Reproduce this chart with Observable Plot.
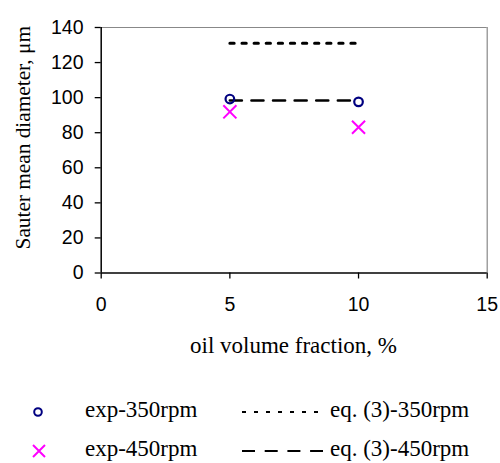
<!DOCTYPE html>
<html><head><meta charset="utf-8">
<script src="https://cdn.jsdelivr.net/npm/d3@7"></script>
<script src="https://cdn.jsdelivr.net/npm/@observablehq/plot@0.6"></script>
<style>
body{margin:0;background:#fff;}
#wrap{position:relative;width:500px;height:463px;overflow:hidden;}
</style></head>
<body><div id="wrap"></div>
<script>
const fractions = [5, 10];
const exp350 = [99.2, 97.6];
const exp450 = [91.9, 83.1];
const eq350 = [131, 131];
const eq450 = [98.4, 98.4];
const xTicks = [0, 5, 10, 15];
const yTicks = [0, 20, 40, 60, 80, 100, 120, 140];
const seriesNames = ["exp-350rpm", "exp-450rpm", "eq. (3)-350rpm", "eq. (3)-450rpm"];
const xTitle = "oil volume fraction, %";
const yTitle = "Sauter mean diameter, μm";

const mk = (vals) => fractions.map((f, i) => ({x: f, y: vals[i]}));
const serif = "Liberation Serif, Times New Roman, serif";

const chart = Plot.plot({
  width: 500, height: 365,
  marginLeft: 100.7, marginRight: 13.3, marginTop: 27, marginBottom: 92.5,
  style: {fontFamily: "Liberation Sans, Arial, sans-serif", fontSize: "19.5px", color: "#000", background: "#fff", overflow: "visible"},
  x: {domain: [0, 15], ticks: xTicks},
  y: {domain: [0, 140], ticks: yTicks},
  marks: [
    Plot.ruleY([140], {stroke: "#888", strokeWidth: 1.2}),
    Plot.ruleX([15], {stroke: "#888", strokeWidth: 1.2}),
    Plot.axisX({ticks: xTicks, tickSize: 6, tickPadding: 18.5, label: null, stroke: "#000", strokeWidth: 1.3}),
    Plot.axisY({ticks: yTicks, tickSize: 6, tickPadding: 11.7, label: null, stroke: "#000", strokeWidth: 1.3}),
    Plot.ruleY([0], {stroke: "#000", strokeWidth: 1.5}),
    Plot.ruleX([0], {stroke: "#000", strokeWidth: 1.5}),
    Plot.line(mk(eq350), {x: "x", y: "y", stroke: "#000", strokeWidth: 3, strokeDasharray: "4.3,7.8"}),
    Plot.line(mk(eq450), {x: "x", y: "y", stroke: "#000", strokeWidth: 2.6, strokeDasharray: "12,9.6"}),
    Plot.dot(mk(exp350), {x: "x", y: "y", r: 4.3, stroke: "#000080", strokeWidth: 2.2, fill: "none"}),
    Plot.dot(mk(exp450), {x: "x", y: "y", r: 6, symbol: "times", stroke: "#ff00ff", strokeWidth: 2}),
    Plot.text([yTitle], {frameAnchor: "left", rotate: -90, textAnchor: "middle", lineAnchor: "middle", dx: -78, dy: -12.5, fontFamily: serif, fontSize: 21.3}),
    Plot.text([xTitle], {frameAnchor: "bottom", textAnchor: "middle", lineAnchor: "middle", dx: -0.7, dy: 72.5, fontFamily: serif, fontSize: 23})
  ]
});
const wrap = document.getElementById("wrap");
chart.style.position = "absolute"; chart.style.left = "0"; chart.style.top = "0";
wrap.appendChild(chart);

// legend
const NS = "http://www.w3.org/2000/svg";
const lg = document.createElementNS(NS, "svg");
lg.setAttribute("width", 500); lg.setAttribute("height", 98);
lg.style.position = "absolute"; lg.style.left = "0"; lg.style.top = "365px";
const off = 365;
const rows = [412, 451];
let html = "";
html += `<circle cx="38" cy="${rows[0]-off}" r="3.8" fill="none" stroke="#000080" stroke-width="2"/>`;
html += `<path d="M33,${rows[1]-off-6}L45,${rows[1]-off+6}M45,${rows[1]-off-6}L33,${rows[1]-off+6}" stroke="#ff00ff" stroke-width="2"/>`;
html += `<line x1="242" y1="${rows[0]-off}" x2="318" y2="${rows[0]-off}" stroke="#000" stroke-width="1.8" stroke-dasharray="4,8"/>`;
html += `<line x1="242" y1="${rows[1]-off}" x2="323" y2="${rows[1]-off}" stroke="#000" stroke-width="2.2" stroke-dasharray="13,9.7"/>`;
const texts = [[85, 417, seriesNames[0]], [85, 456, seriesNames[1]], [330, 417, seriesNames[2]], [330, 456, seriesNames[3]]];
for (const [x, y, t] of texts) {
  html += `<text x="${x}" y="${y-off}" font-family="${serif}" font-size="23" fill="#000">${t}</text>`;
}
lg.innerHTML = html;
wrap.appendChild(lg);
</script></body></html>
